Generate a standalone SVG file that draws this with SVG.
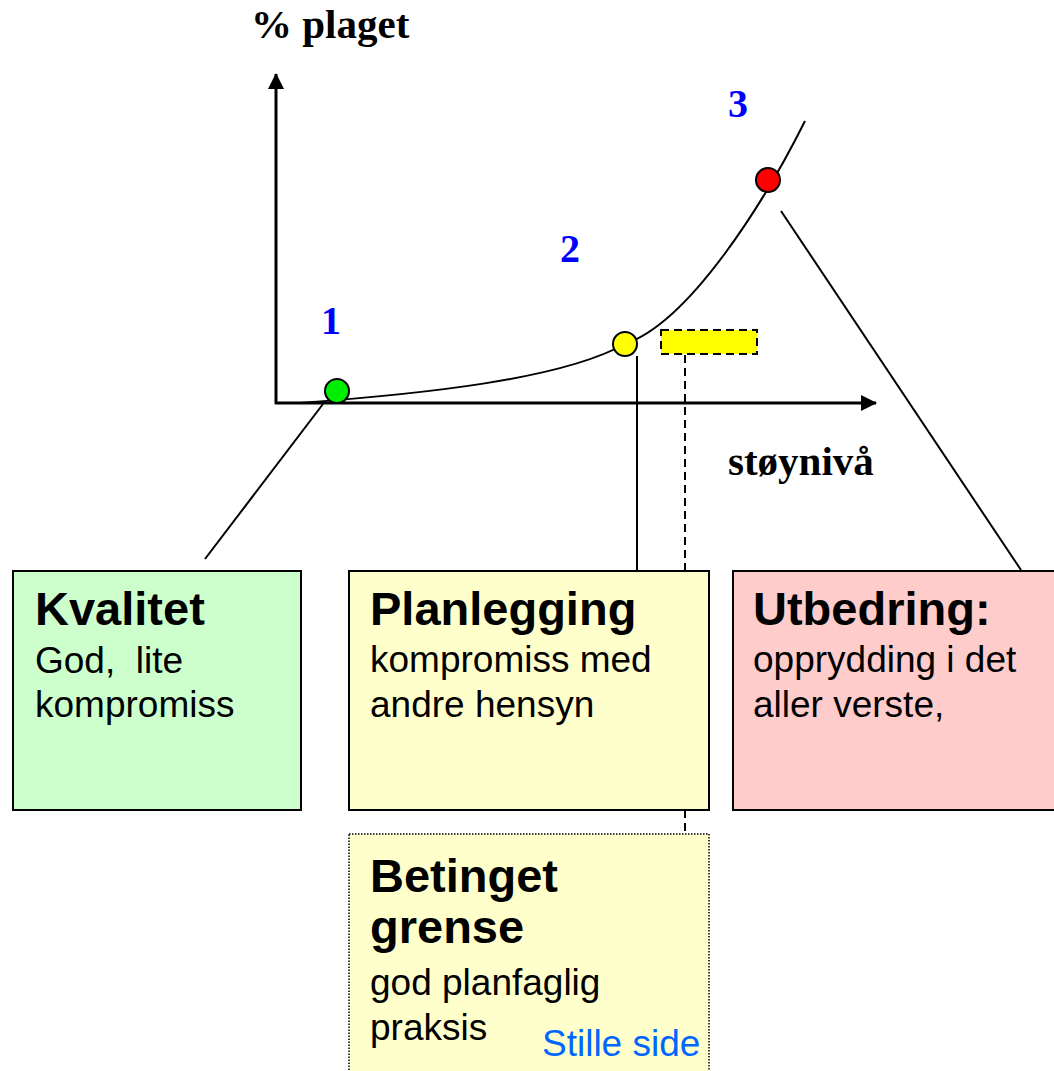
<svg xmlns="http://www.w3.org/2000/svg" width="1054" height="1071" viewBox="0 0 1054 1071">
  <style>
    .axis { stroke: #000; stroke-width: 3; fill: none; }
    .curve { stroke: #000; stroke-width: 2; fill: none; }
    .lead { stroke: #000; stroke-width: 2; fill: none; }
    .dash { stroke: #000; stroke-width: 2; fill: none; stroke-dasharray: 8 5; }
    .band { stroke: #000; stroke-width: 2; fill: #ffff00; stroke-dasharray: 8 5; }
    .box { stroke: #000; stroke-width: 2; }
    .dot { stroke: #000; stroke-width: 2; }
    .axlabel { font-family: "Liberation Serif", "Times New Roman", serif; font-weight: bold; font-size: 41px; fill: #000; }
    .num { font-family: "Liberation Serif", "Times New Roman", serif; font-weight: bold; font-size: 40px; fill: #0000ff; text-anchor: middle; }
    .title { font-family: "Liberation Sans", Arial, sans-serif; font-weight: bold; font-size: 47px; fill: #000; }
    .body { font-family: "Liberation Sans", Arial, sans-serif; font-size: 37px; fill: #000; }
    .note { font-family: "Liberation Sans", Arial, sans-serif; font-size: 37px; fill: #0066ff; }
  </style>
  <defs>
    <marker id="arrow" viewBox="0 0 16 16" refX="15" refY="8" markerWidth="16" markerHeight="16" markerUnits="userSpaceOnUse" orient="auto">
      <path d="M0,0 L16,8 L0,16 Z" fill="#000"/>
    </marker>
  </defs>

  <rect width="1054" height="1071" fill="#fff"/>

  <!-- axes -->
  <g id="axes">
    <line class="axis" x1="276" y1="404" x2="276" y2="74" marker-end="url(#arrow)"/>
    <line class="axis" x1="275" y1="403" x2="876" y2="403" marker-end="url(#arrow)"/>
    <text class="axlabel" x="251" y="38">% plaget</text>
    <text class="axlabel" x="728" y="475">støynivå</text>
  </g>

  <!-- annoyance curve -->
  <path class="curve" d="M300,403 C420,394 560,380 625,344 C690,322 765,201 805,121"/>

  <!-- connectors -->
  <g id="connectors">
    <line class="lead" x1="323" y1="404" x2="205" y2="559"/>
    <line class="lead" x1="637" y1="356" x2="637" y2="571"/>
    <line class="dash" x1="685" y1="355" x2="685" y2="834"/>
    <line class="lead" x1="781" y1="211" x2="1021" y2="570"/>
  </g>

  <!-- level markers -->
  <g id="point-1">
    <circle class="dot" cx="337" cy="391" r="12" fill="#00ee00"/>
    <text class="num" x="331" y="334">1</text>
  </g>
  <g id="point-2">
    <circle class="dot" cx="625" cy="344" r="12" fill="#ffff00"/>
    <text class="num" x="570" y="262">2</text>
  </g>
  <g id="point-3">
    <circle class="dot" cx="768" cy="180" r="12" fill="#ff0000"/>
    <text class="num" x="738" y="117">3</text>
  </g>
  <g id="threshold-band">
    <rect class="band" x="661" y="330" width="96" height="24"/>
  </g>

  <!-- description boxes -->
  <g id="kvalitet">
    <rect class="box" x="13" y="571" width="288" height="239" fill="#ccffcc"/>
    <text class="title" x="35" y="625">Kvalitet</text>
    <text class="body" x="35" y="673" xml:space="preserve">God,  lite</text>
    <text class="body" x="35" y="717">kompromiss</text>
  </g>
  <g id="planlegging">
    <rect class="box" x="349" y="571" width="360" height="239" fill="#ffffcc"/>
    <text class="title" x="370" y="625">Planlegging</text>
    <text class="body" x="370" y="672">kompromiss med</text>
    <text class="body" x="370" y="717">andre hensyn</text>
  </g>
  <g id="utbedring">
    <rect class="box" x="733" y="571" width="330" height="239" fill="#ffcccc"/>
    <text class="title" x="753" y="625">Utbedring:</text>
    <text class="body" x="753" y="672">opprydding i det</text>
    <text class="body" x="753" y="717">aller verste,</text>
  </g>
  <g id="betinget-grense">
    <rect x="349" y="834" width="360" height="250" fill="#ffffcc" stroke="#000" stroke-width="1.5" stroke-dasharray="1.5 1.5"/>
    <text class="title" x="370" y="892">Betinget</text>
    <text class="title" x="370" y="943">grense</text>
    <text class="body" x="370" y="995">god planfaglig</text>
    <text class="body" x="370" y="1040">praksis</text>
    <text class="note" x="542" y="1056">Stille side</text>
  </g>
</svg>
